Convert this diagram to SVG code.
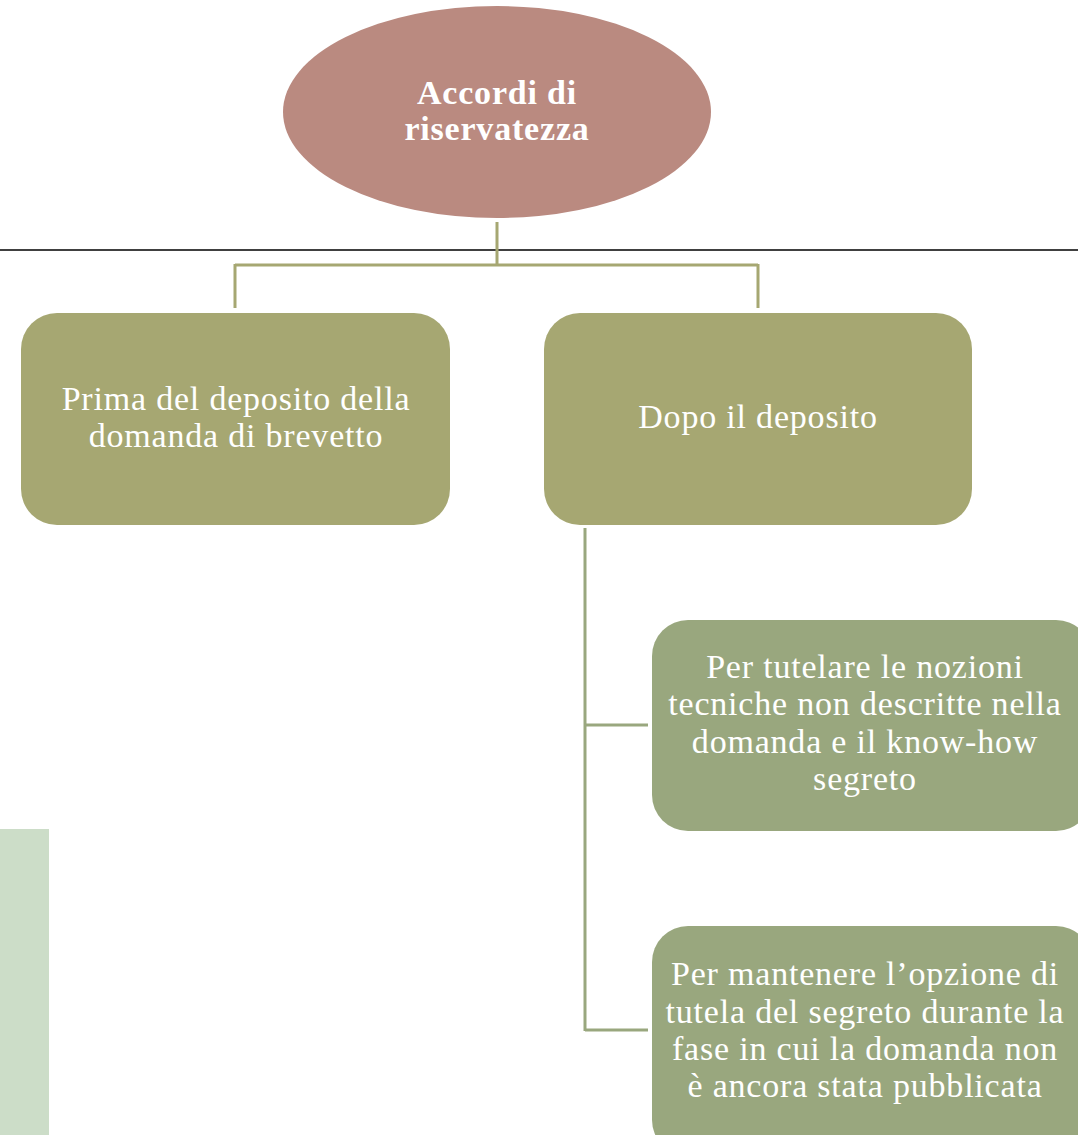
<svg xmlns="http://www.w3.org/2000/svg" width="1078" height="1135" viewBox="0 0 1078 1135">
<style>
.t{font-family:"Liberation Serif","DejaVu Serif",serif;fill:#ffffff;text-anchor:middle;letter-spacing:0.8px}
.tb{font-size:34px;font-weight:bold}
.tn{font-size:34px}
.olive{fill:#A6A772}
.sage{fill:#99A77E}
.c1{stroke:#A6A772;stroke-width:3;fill:none}
.c2{stroke:#99A77E;stroke-width:3;fill:none}
</style>
<rect x="0" y="829" width="49" height="306" fill="#CCDDC8"/>
<line x1="0" y1="250" x2="1078" y2="250" stroke="#404040" stroke-width="2"/>
<g id="connectors">
<path class="c1" d="M497 222 V265 M235 265 H758 M235 264 V308 M758 264 V308"/>
<path class="c2" d="M585 528 V1031 M585 725 H648 M585 1030 H648"/>
</g>
<g id="root">
<ellipse cx="497" cy="112" rx="214" ry="106" fill="#BA8A80"/>
<text class="t tb" x="497" y="104">Accordi di</text>
<text class="t tb" x="497" y="140">riservatezza</text>
</g>
<g id="before">
<rect class="olive" x="21" y="313" width="429" height="212" rx="36"/>
<text class="t tn" x="236" y="410">Prima del deposito della</text>
<text class="t tn" x="236" y="447">domanda di brevetto</text>
</g>
<g id="after">
<rect class="olive" x="544" y="313" width="428" height="212" rx="36"/>
<text class="t tn" x="758" y="428">Dopo il deposito</text>
</g>
<g id="tutelare">
<rect class="sage" x="652" y="620" width="440" height="211" rx="36"/>
<text class="t tn" x="865" y="678">Per tutelare le nozioni</text>
<text class="t tn" x="865" y="715">tecniche non descritte nella</text>
<text class="t tn" x="865" y="753">domanda e il know-how</text>
<text class="t tn" x="865" y="790">segreto</text>
</g>
<g id="mantenere">
<rect class="sage" x="652" y="926" width="440" height="230" rx="36"/>
<text class="t tn" x="865" y="985">Per mantenere l’opzione di</text>
<text class="t tn" x="865" y="1023">tutela del segreto durante la</text>
<text class="t tn" x="865" y="1060">fase in cui la domanda non</text>
<text class="t tn" x="865" y="1097">è ancora stata pubblicata</text>
</g>
</svg>
